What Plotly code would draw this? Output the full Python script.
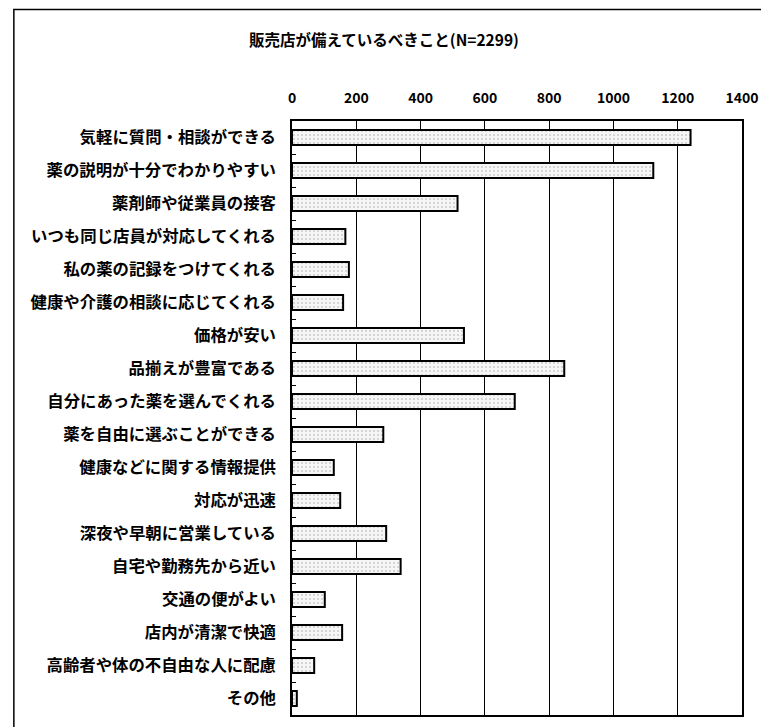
import plotly.graph_objects as go

title_text = "販売店が備えているべきこと(N=2299)"

categories = [
    "気軽に質問・相談ができる",
    "薬の説明が十分でわかりやすい",
    "薬剤師や従業員の接客",
    "いつも同じ店員が対応してくれる",
    "私の薬の記録をつけてくれる",
    "健康や介護の相談に応じてくれる",
    "価格が安い",
    "品揃えが豊富である",
    "自分にあった薬を選んでくれる",
    "薬を自由に選ぶことができる",
    "健康などに関する情報提供",
    "対応が迅速",
    "深夜や早朝に営業している",
    "自宅や勤務先から近い",
    "交通の便がよい",
    "店内が清潔で快適",
    "高齢者や体の不自由な人に配慮",
    "その他",
]
counts = [1240, 1124, 515, 166, 177, 159, 535, 847, 693, 284, 130, 150, 293, 338, 102, 156, 69, 15]
x_ticks = [0, 200, 400, 600, 800, 1000, 1200, 1400]

# page body has an 8px margin, so work in screen pixels and shift
OFF = 8
W, H = 769 - OFF, 727 - OFF
ml, mt = 292 - OFF, 121 - OFF
mr = W - (745 - OFF)
mb = H - (717 - OFF)
pw, ph = W - ml - mr, H - mt - mb

font_family = "Noto Sans CJK JP"

fig = go.Figure()
fig.add_trace(go.Bar(
    x=counts,
    y=categories,
    orientation="h",
    marker=dict(
        color="white",
        line=dict(color="black", width=2),
        pattern=dict(shape=".", fgcolor="#a0a0a0", bgcolor="#f6f6f6", size=4, solidity=0.2),
    ),
    width=0.46,
    hoverinfo="x+y",
))

# outer chart frame (Excel chart area border)
fx0 = (12 - OFF - ml) / pw
fy1 = 1 + (mt - 1) / ph
fig.add_shape(type="rect", xref="paper", yref="paper",
              x0=fx0, x1=1 + (mr + 20) / pw, y0=-0.2, y1=fy1,
              line=dict(color="black", width=1.5), layer="below")

fig.update_layout(
    width=W, height=H,
    margin=dict(l=ml, r=mr, t=mt, b=mb),
    paper_bgcolor="white",
    plot_bgcolor="white",
    showlegend=False,
    font=dict(family=font_family, color="black", size=15, weight="bold"),
    title=dict(text=title_text, x=(384 - OFF) / W, xref="container",
               y=1 - (41 - OFF) / H, yref="container",
               xanchor="center", yanchor="middle",
               font=dict(family=font_family, size=15.5, color="black", weight="bold")),
)

fig.update_xaxes(
    side="top",
    range=[0, 1400],
    tickvals=x_ticks,
    ticktext=[str(v) for v in x_ticks],
    showgrid=True, gridcolor="black", gridwidth=1,
    showline=True, linecolor="black", linewidth=1.5, mirror=True,
    ticks="", ticklabelstandoff=11,
    tickfont=dict(family=font_family, size=14, color="black", weight="bold"),
    zeroline=False,
    fixedrange=True,
)
fig.update_yaxes(
    autorange="reversed",
    showline=True, linecolor="black", linewidth=1.5, mirror=True,
    ticks="inside", tickson="boundaries", ticklen=4, tickcolor="black",
    ticklabelstandoff=11,
    tickfont=dict(family=font_family, size=16.4, color="black", weight="bold"),
    showgrid=False,
    fixedrange=True,
)

fig.write_html("out.html")
